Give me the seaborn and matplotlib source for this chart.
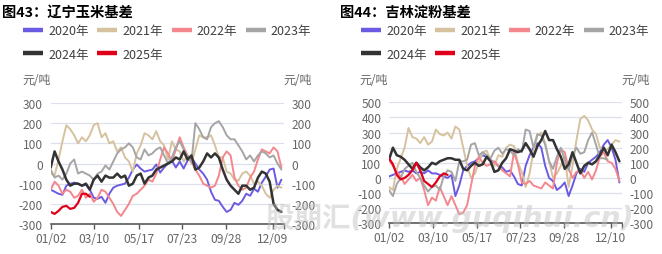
import numpy as np
import pandas as pd
import matplotlib
matplotlib.use("Agg")
import matplotlib.pyplot as plt
import seaborn as sns
from matplotlib.lines import Line2D

sns.set_theme(style="white")
plt.rcParams['font.family'] = ['Noto Sans CJK SC', 'DejaVu Sans']
plt.rcParams['axes.unicode_minus'] = False

# ---------------- data ----------------
years = ["2020年", "2021年", "2022年", "2023年", "2024年", "2025年"]
colors = ["#6b5be2", "#d6c29e", "#f4878d", "#a5a5a5", "#333333", "#e0001a"]
widths = [1.4, 1.4, 1.4, 1.4, 1.8, 1.6]

# sample day-of-year positions (every 6 days from 01/02)
days = [1 + 6 * i for i in range(60)]

tick_days = [1, 68, 136, 203, 270, 342]
tick_labels_left = ["01/02", "03/10", "05/17", "07/23", "09/28", "12/09"]
tick_labels_right = ["01/02", "03/10", "05/17", "07/23", "09/28", "12/10"]

# 图43 辽宁玉米基差
ln_2020 = [-130, -140, -150, -155, -110, -100, -95, -100, -110, -105,
           -130, -170, -175, -165, -195, -150, -120, -110, -105, -100,
           -70, -30, -5, -25, -40, -35, -30, -5, -45, -20,
           0, 15, -20, 10, -25, 15, 30, 0, -30, -50,
           -80, -140, -180, -185, -215, -240, -230, -195, -205, -185,
           -150, -160, -125, -140, -95, -65, -30, -25, -120, -80]
ln_2021 = [-50, -60, 20, 110, 190, 170, 140, 100, 130, 110,
           140, 190, 200, 130, 150, 100, 110, 60, 80, 30,
           10, -40, 50, 90, 150, 140, 120, 160, 110, 90,
           20, 110, 70, 60, 10, 40, 0, 70, 140, 130,
           130, 140, 90, 30, 30, -40, -50, -80, -85, -50,
           -40, -60, -100, -90, -110, -150, -170, -130, -110, -120]
ln_2022 = [-130, -90, -110, -150, -130, -140, -170, -160, -130, -170,
           -150, -190, -170, -130, -140, -170, -200, -240, -260, -230,
           -200, -160, -150, -130, -110, -80, -90, -50, 20, 80,
           50, 10, 70, 130, 80, 40, 10, -30, -60, -100,
           -110, -120, -110, -60, 30, 60, 40, -70, -110, -130,
           -120, -70, -40, 20, 70, 60, 50, 80, 60, -20]
ln_2023 = [-30, -70, -60, -80, -50, 0, 20, -50, -40, -50,
           -60, -80, -50, -40, -10, -30, 10, 50, 70, 80,
           100, 80, 30, 20, 70, 40, 50, 70, 80, 40,
           0, 30, 80, 110, 70, 30, 10, 200, 170, 130,
           120, 180, 200, 210, 180, 140, 120, 120, 90, 60,
           20, 40, 10, 40, 60, 50, 30, 40, 0, -30]
ln_2024 = [-20, 60, 10, -30, -80, -110, -100, -100, -110, -100,
           -130, -80, -60, -90, -60, -70, -70, -50, -70, -60,
           -110, -100, -60, -50, -100, -70, -60, -30, -20, -10,
           0, 10, 30, 20, 60, 20, 40, -30, -20, 10,
           50, 30, 50, 30, -30, -80, -110, -130, -150, -110,
           -110, -130, -120, -70, -40, -50, -90, -200, -230, -240]
ln_2025 = [-240, -250, -235, -215, -210, -225, -220, -195, -150, -150, -165]

# 图44 吉林淀粉基差
jl_2020 = [10, 20, 30, 40, 50, 40, 50, 30, 40, 30,
           50, 30, 30, 20, 10, 0, 20, -120, -50, 50,
           80, 100, 110, 130, 150, 140, 120, 100, 80, 70,
           40, 50, 10, -40, -50, 80, 150, 200, 230, 200,
           80, 0, -20, -80, -60, -30, -120, -50, 30, 60,
           40, 100, 120, 140, 170, 220, 250, 200, 120, -30]
jl_2021 = [-60, -80, 60, 130, 200, 330, 270, 260, 230, 270,
           220, 240, 320, 290, 280, 300, 260, 340, 320, 200,
           80, 0, 30, 100, 170, 180, 120, 80, 150, 140,
           200, 220, 210, 100, 40, -60, 30, 180, 280, 300,
           230, 110, 0, 30, 80, 140, -60, 80, 250, 390,
           410, 380, 320, 290, 200, 180, 190, 220, 250, 240]
jl_2022 = [120, 80, 40, 10, -40, -10, 20, -20, 0, -80,
           -180, -130, -150, -60, -120, -180, -120, -180, -240, -230,
           -180, -50, 80, 140, 100, 80, 90, 110, 80, 50,
           30, 10, 170, 90, -30, -40, -20, -50, -60, -70,
           -30, -50, -70, 100, 190, 170, 60, 0, 40, 50,
           0, 40, -10, 50, 140, 170, 110, 100, 60, -20]
jl_2023 = [-80, -120, -40, 0, 60, 80, 100, 40, 0, -50,
           -90, -60, -50, -80, 10, 50, 40, -20, 110, 110,
           120, 220, 230, 150, 170, 150, 130, 180, 200, 160,
           190, 180, 150, 190, 170, 320, 310, 200, 290, 280,
           220, 110, 60, 140, 200, 120, 50, 150, 200, 160,
           170, 250, 300, 220, 130, 130, 120]
jl_2024 = [120, 200, 150, 140, 120, 90, 60, 100, 70, 50,
           70, 100, 90, 110, 120, 130, 130, 120, 120, 60,
           50, 80, 100, 80, 90, 140, 110, 40, 50, 100,
           130, 190, 180, 170, 180, 230, 190, 140, 210, 250,
           310, 250, 250, 190, 140, 60, 90, 170, 100, 30,
           80, 100, 90, 110, 150, 200, 150, 220, 170, 110]
jl_2025 = [130, 90, 20, -10, 0, 20, 50, 100, 50, -20, -40, -60, -30, 10, 30, 20]

charts = [
    dict(title="图43：辽宁玉米基差", series=[ln_2020, ln_2021, ln_2022, ln_2023, ln_2024, ln_2025],
         ylim=(-300, 300), ticks=tick_labels_left,
         rect=[50.7 / 662, 30 / 255, 233.3 / 662, 121 / 255], title_x=2, unit_l=22, unit_r=283, leg_x=23),
    dict(title="图44：吉林淀粉基差", series=[jl_2020, jl_2021, jl_2022, jl_2023, jl_2024, jl_2025],
         ylim=(-300, 500), ticks=tick_labels_right,
         rect=[389 / 662, 30.7 / 255, 233 / 662, 121 / 255], title_x=340, unit_l=359, unit_r=621, leg_x=361),
]

W, H = 662, 255
fig = plt.figure(figsize=(W / 100, H / 100), dpi=100)
fig.patch.set_facecolor("white")

label_color = "#666666"
tick_fs = 8.6

for ch in charts:
    ax = fig.add_axes(ch["rect"])
    for vals, c, lw in zip(ch["series"], colors, widths):
        sns.lineplot(x=days[:len(vals)], y=vals, ax=ax, color=c, linewidth=lw)
    ax.set_xlim(1, 359)
    lo, hi = ch["ylim"]
    ax.set_ylim(lo, hi)
    ax.set_yticks(np.arange(lo, hi + 1, 100))
    ax.set_xticks(tick_days)
    ax.set_xticklabels(ch["ticks"])
    ax.set_xticks([359], minor=True)
    ax.yaxis.grid(True, color="#dde0ea", linewidth=0.9)
    ax.xaxis.grid(False)
    ax.set_axisbelow(True)
    for s in ["top", "left", "right"]:
        ax.spines[s].set_visible(False)
    ax.spines["bottom"].set_color("#595959")
    ax.spines["bottom"].set_linewidth(1.2)
    ax.tick_params(axis="y", length=0, labelleft=True, labelright=True,
                   labelsize=tick_fs, labelcolor=label_color, pad=5.5)
    ax.tick_params(axis="x", which="both", bottom=True, length=3.5, width=1.0, color="#595959",
                   labelsize=tick_fs, labelcolor=label_color, pad=2)
    ax.set_xlabel("")
    ax.set_ylabel("")
    ax.set_facecolor("white")

    fig.text(ch["title_x"] / W, 1 - 12.5 / H, ch["title"], fontsize=10.3, fontweight="bold",
             color="black", va="center", ha="left")
    fig.text(ch["unit_l"] / W, 1 - 80 / H, "元/吨", fontsize=8.6, color=label_color, va="center", ha="left")
    fig.text(ch["unit_r"] / W, 1 - 80 / H, "元/吨", fontsize=8.6, color=label_color, va="center", ha="left")

    handles = [Line2D([0], [0], color=c, lw=3.2, solid_capstyle="butt") for c in colors]
    order = [0, 4, 1, 5, 2, 3]
    fig.legend([handles[i] for i in order], [years[i] for i in order],
               loc="upper left", bbox_to_anchor=(ch["leg_x"] / W, 1 - 25 / H),
               ncol=4, frameon=False, fontsize=9, labelcolor="#404040",
               handlelength=1.6, handletextpad=0.4, columnspacing=0.7,
               labelspacing=0.85, borderpad=0, borderaxespad=0)

fig.text(265 / W, 1 - 218 / H, "股期汇(www.guqihui.cn)", fontsize=20.5, fontweight="bold",
         style="italic", color="#bdbdbd", alpha=0.45, va="center", ha="left",
         family=["DejaVu Sans", "Noto Sans CJK SC"])

fig.savefig("out.png", dpi=100)
